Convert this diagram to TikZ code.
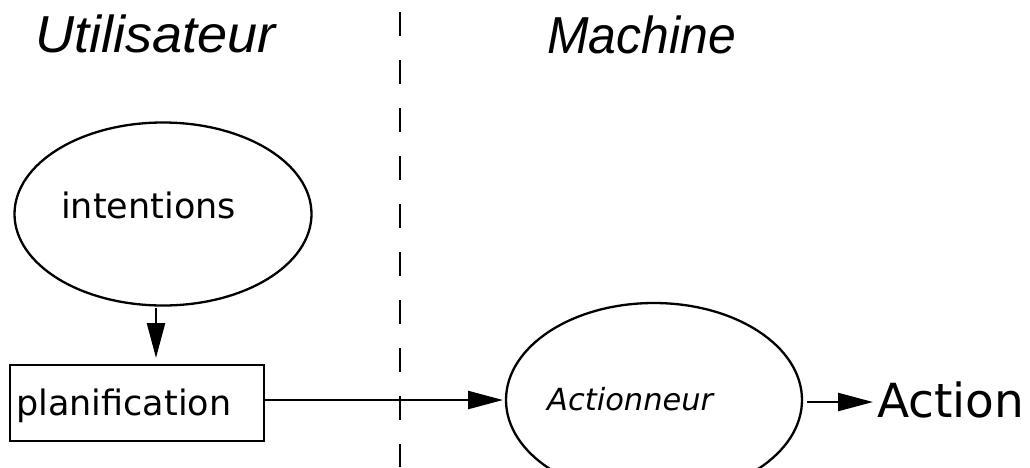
\documentclass[tikz,border=0pt]{standalone}
\usepackage{fontspec}
\setmainfont{DejaVu Sans}
\newfontfamily\headfont{Liberation Sans}
\usetikzlibrary{shapes.geometric,arrows.meta}
\tikzset{
  shp/.style={draw=black, line width=2.3pt},
  oval/.style={shp, ellipse, inner sep=0pt, outer sep=0pt},
  box/.style={shp, rectangle, inner sep=0pt, outer sep=0pt},
  arr/.style={line width=2.3pt, -{Triangle[length=35pt,width=18pt]}},
  sep/.style={line width=2.4pt, dash pattern=on 24pt off 24pt},
  head/.style={inner sep=0pt, anchor=base west, font=\headfont\itshape\fontsize{52pt}{58pt}\selectfont},
  lbl/.style={inner sep=0pt, anchor=base west, font=\fontsize{35pt}{40pt}\selectfont},
}
\begin{document}
\begin{tikzpicture}[x=1pt,y=-1pt]
\useasboundingbox (0,0) rectangle (1030,467);
\fill[white] (0,0) rectangle (1030,467);
% headings
\node[head, xscale=1.04] (hu) at (35,52) {Utilisateur};
\node[head, xscale=0.96] (hm) at (547,53) {Machine};
% separator
\coordinate (s1) at (400,12);
\coordinate (s2) at (400,467);
\draw[sep] (s1) -- (s2);
% intentions
\node[oval, minimum width=297pt, minimum height=183pt] (int) at (163,214) {};
\node[lbl] (intt) at (61,218) {intentions};
% planification
\node[box, minimum width=254pt, minimum height=76pt] (plan) at (137,403) {};
\node[lbl] (plant) at (16,415) {planification};
% actionneur
\node[oval, minimum width=296pt, minimum height=194pt] (act) at (654,400) {};
\node[lbl, font=\itshape\fontsize{30.5pt}{34pt}\selectfont] (actt) at (547,410) {Actionneur};
% action
\node[lbl, font=\fontsize{47pt}{52pt}\selectfont] (acn) at (877,417) {Action};
% connectors
\coordinate (d1) at (156,308);
\coordinate (d2) at (156,358);
\draw[arr] (d1) -- (d2);
\draw[arr, shorten >=3pt] (plan.east |- act.west) -- (act.west);
\coordinate (e1) at (807,402);
\coordinate (e2) at (873,402);
\draw[arr] (e1) -- (e2);
\end{tikzpicture}
\end{document}
